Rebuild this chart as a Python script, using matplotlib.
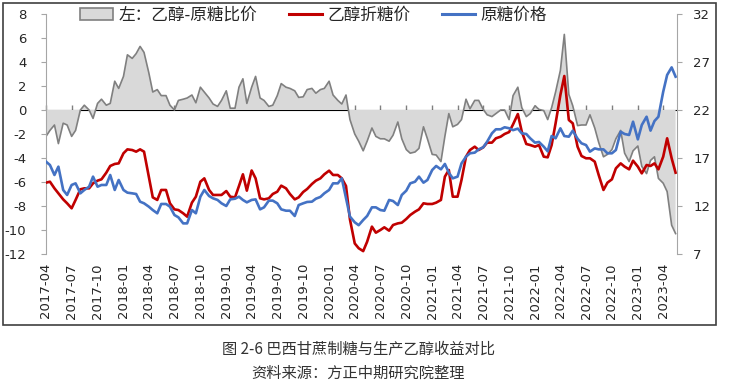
import matplotlib
matplotlib.use('Agg')
import numpy as np
import pandas as pd
import matplotlib.pyplot as plt
import matplotlib.dates as mdates
from matplotlib.patches import Patch, Rectangle
from matplotlib.lines import Line2D

# semi-monthly readings, 2017-04-01 .. 2023-05-15
# left axis: ethanol / raw sugar spread
ratio = [
    -2.2, -1.7, -1.25, -2.8, -1.1, -1.25, -2.2, -1.7, 0.0, 0.4, 0.0, -0.7,
    0.55, 0.9, 0.4, 0.55, 2.4, 1.8, 2.8, 4.6, 4.3, 4.7, 5.3, 4.8,
    3.1, 1.5, 1.7, 1.2, 1.2, 0.4, 0.0, 0.8, 0.9, 1.0, 1.25, 0.6,
    1.9, 1.5, 1.0, 0.5, 0.3, 0.8, 1.6, 0.15, 0.15, 1.9, 2.6, 0.55,
    1.9, 2.8, 1.0, 0.8, 0.3, 0.4, 1.2, 2.2, 1.9, 1.8, 1.6, 1.05,
    1.1, 1.7, 1.8, 1.4, 1.7, 1.8, 2.4, 1.25, 0.8, 0.5, 1.25, -0.8,
    -2.0, -2.6, -3.4, -2.6, -1.5, -2.2, -2.4, -2.4, -2.6, -2.1, -1.0, -2.4,
    -3.3, -3.6, -3.5, -3.2, -1.4, -2.4, -3.7, -3.75, -4.3, -2.2, -0.3, -1.4,
    -1.2, -0.8, 0.9, 0.1, 0.8, 0.8, 0.05, -0.4, -0.55, -0.3, 0.0, 0.0,
    -0.8, 1.2, 1.9, 0.2, -0.55, -0.3, 0.35, 0.05, -0.05, -0.8, 0.2, 1.5,
    3.3, 6.3, 1.3, 0.35, -1.3, -1.25, -1.25, -0.4, -1.5, -2.7, -3.9, -3.7,
    -3.3, -2.4, -1.7, -3.6, -4.3, -3.4, -3.0, -4.7, -5.3, -4.2, -3.9, -5.7,
    -6.1, -6.8, -9.6, -10.3,
]

# right axis: ethanol equivalent sugar price
ethanol = [
    14.43, 14.53, 13.84, 13.32, 12.69, 12.28, 11.76, 12.63, 13.74, 13.84, 13.84, 14.36,
    14.64, 14.78, 15.47, 16.17, 16.38, 16.44, 17.49, 17.9, 17.83, 17.66, 17.9, 17.66,
    15.06, 12.9, 12.63, 13.67, 13.67, 12.28, 11.65, 11.58, 11.24, 10.89, 12.35, 12.97,
    14.53, 14.88, 13.67, 13.15, 13.15, 13.15, 13.56, 12.97, 12.9, 14.08, 15.3, 13.6,
    15.7, 14.88, 12.8, 12.69, 12.8, 13.25, 13.49, 14.12, 13.84, 13.25, 12.69, 12.9,
    13.46, 13.77, 14.29, 14.64, 14.88, 15.3, 15.68, 15.23, 15.23, 14.88, 14.08, 10.6,
    8.1, 7.6, 7.3, 8.28, 9.85, 9.22, 9.5, 9.78, 9.43, 10.02, 10.19, 10.26,
    10.65, 11.06, 11.41, 11.65, 12.28, 12.21, 12.21, 12.35, 12.63, 15.06, 15.75, 12.97,
    12.97, 14.71, 17.14, 17.83, 18.18, 17.83, 18.11, 18.6, 18.6, 19.05, 19.22, 19.5,
    19.7, 20.5, 21.58, 19.74, 18.46, 18.35, 18.18, 18.35, 17.14, 17.07, 18.35, 20.61,
    23.56, 25.54, 20.96, 20.61, 18.18, 17.21, 16.97, 16.97, 16.62, 15.23, 13.67, 14.43,
    14.78, 15.92, 16.44, 16.1, 15.82, 16.72, 16.1, 15.4, 16.27, 16.17, 16.44, 15.82,
    17.14, 19.05, 16.97, 15.47,
]

# right axis: raw sugar price
raw_sugar = [
    16.62, 16.27, 15.23, 16.1, 13.67, 13.15, 14.19, 14.36, 13.32, 13.67, 14.01, 15.06,
    14.01, 14.19, 14.19, 15.23, 13.67, 14.71, 13.67, 13.39, 13.32, 13.25, 12.45, 12.28,
    11.93, 11.58, 11.24, 12.21, 12.21, 11.93, 11.06, 10.82, 10.19, 10.19, 11.58, 11.24,
    12.97, 13.67, 13.04, 12.8, 12.63, 12.28, 12.0, 12.69, 12.76, 12.97, 12.63, 12.38,
    12.63, 12.69, 11.65, 11.86, 12.56, 12.56, 12.28, 11.65, 11.51, 11.51, 10.96, 12.1,
    12.28, 12.42, 12.45, 12.76, 12.94, 13.32, 13.67, 14.36, 14.36, 14.88, 12.8, 10.9,
    10.3, 10.0, 10.54, 10.96, 11.86, 11.86, 11.58, 11.51, 12.63, 12.52, 12.1, 13.15,
    13.6, 14.36, 14.53, 15.06, 14.43, 14.71, 15.75, 16.17, 15.82, 16.38, 15.47, 14.88,
    15.06, 16.44, 17.14, 17.49, 17.56, 17.9, 18.11, 18.7, 19.57, 19.99, 19.99, 20.2,
    20.1, 19.9, 20.06, 19.57, 19.5, 19.05, 18.6, 18.67, 18.18, 17.69, 19.29, 19.05,
    20.09, 19.29, 19.22, 19.85, 19.01, 18.53, 18.35, 17.66, 18.0, 17.9, 17.9, 17.49,
    17.49, 17.83, 19.74, 19.5, 19.4, 20.78, 18.94, 20.44, 21.3, 19.85, 20.85, 21.3,
    23.9, 25.65, 26.44, 25.47,
]

labels = ['左：乙醇-原糖比价', '乙醇折糖价', '原糖价格']
caption = '图 2-6 巴西甘蔗制糖与生产乙醇收益对比'
source = '资料来源：方正中期研究院整理'

dates = pd.date_range('2017-04-01', periods=len(ratio), freq='SMS')
xticks = pd.date_range('2017-04-01', '2023-04-01', freq='QS-JAN')

plt.rcParams['font.family'] = ['DejaVu Sans', 'Noto Sans CJK SC']
plt.rcParams['axes.unicode_minus'] = False

txt = '#262626'
axcol = '#A6A6A6'

fig = plt.figure(figsize=(7.31, 3.84), dpi=100)
ax = fig.add_axes([46 / 731, 1 - 254 / 384, (677 - 46) / 731, (254 - 14) / 384])
ax2 = ax.twinx()

# gray area on the left axis
ax.fill_between(dates, ratio, 0, facecolor='#D9D9D9', edgecolor='none', zorder=1)
ax.plot(dates, ratio, color='#808080', lw=1.2, zorder=2)

ax2.plot(dates, ethanol, color='#C00000', lw=1.9)
ax2.plot(dates, raw_sugar, color='#4472C4', lw=1.9)

ax.set_ylim(-12, 8)
ax.set_yticks(range(-12, 9, 2))
ax2.set_ylim(7, 32)
ax2.set_yticks(range(7, 33, 5))
ax.set_xlim(dates[0], pd.Timestamp('2023-05-20'))

for s in ['top', 'bottom', 'right']:
    ax.spines[s].set_visible(False)
for s in ['top', 'bottom', 'left']:
    ax2.spines[s].set_visible(False)
ax.spines['left'].set_color(axcol)
ax2.spines['right'].set_color(axcol)

ax.tick_params(axis='y', colors=axcol, labelcolor=txt, labelsize=9.5, length=3.6, pad=10.5)
ax2.tick_params(axis='y', colors=axcol, labelcolor=txt, labelsize=9.5, length=3.6, pad=8)

ax.set_xticks(xticks)
ax.xaxis.set_major_formatter(mdates.DateFormatter('%Y-%m'))
ax.tick_params(axis='x', length=0, labelsize=9.5, labelcolor=txt, rotation=90, pad=6.5)

# zero line with the quarterly tick marks
sec = ax.secondary_xaxis(0.6)
sec.set_xticks(mdates.date2num(xticks), labels=[])
sec.spines['bottom'].set_color('#808080')
sec.spines['bottom'].set_linewidth(1.3)
sec.tick_params(axis='x', colors='#808080', length=3.6, width=1, direction='out')

handles = [Patch(facecolor='#D9D9D9', edgecolor='#808080', linewidth=1.2),
           Line2D([], [], color='#C00000', lw=2.2),
           Line2D([], [], color='#4472C4', lw=2.2)]
fig.legend(handles, labels, loc='upper left', bbox_to_anchor=(80 / 731, 1 - 7 / 384),
           ncol=3, frameon=False, handlelength=2.0, handletextpad=0.3, columnspacing=1.9,
           borderpad=0, borderaxespad=0, labelcolor=txt,
           prop={'family': ['Noto Sans CJK SC', 'DejaVu Sans'], 'size': 12})

fig.add_artist(Rectangle((3 / 731, 1 - 325 / 384), 713 / 731, 322 / 384,
                         transform=fig.transFigure, fill=False, edgecolor='#404040', lw=1.2))

fig.text(0.49, 1 - 349 / 384, caption, ha='center', va='center', fontsize=11, color='#333333',
         family=['Noto Sans CJK SC', 'DejaVu Sans'])
fig.text(0.49, 1 - 373 / 384, source, ha='center', va='center', fontsize=11, color='#333333',
         family=['Noto Sans CJK SC', 'DejaVu Sans'])

fig.savefig('out.png', dpi=100)
